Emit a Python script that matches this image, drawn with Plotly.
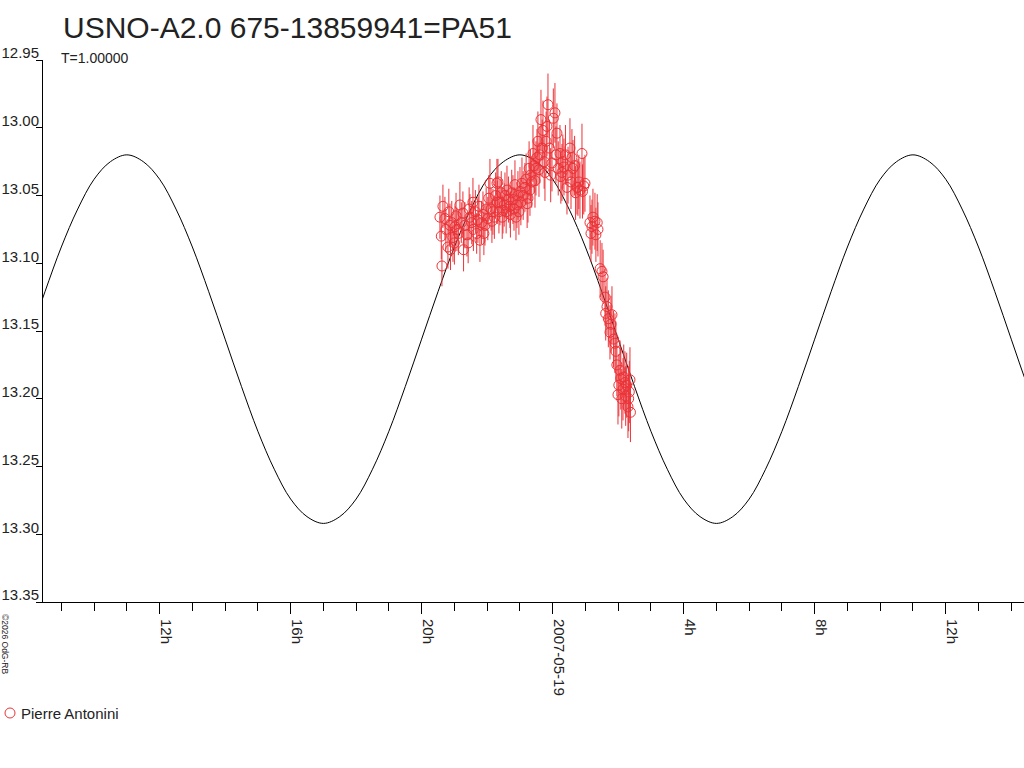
import pandas as pd
from plotly import graph_objects as go

# observation times, hours from 2007-05-19 00:00 UT
obs_hours = [
    -3.441, -3.40, -3.380, -3.350, -3.289, -3.26, -3.197, -3.17, -3.136, -3.12,
    -3.08, -3.044, -3.00, -2.983, -2.95, -2.922, -2.88, -2.832, -2.79, -2.740,
    -2.72, -2.68, -2.617, -2.58, -2.55, -2.525, -2.47, -2.434, -2.42, -2.36,
    -2.32, -2.281, -2.25, -2.220, -2.17, -2.128, -2.10, -2.067, -2.03, -1.98,
    -1.95, -1.915, -1.88, -1.854, -1.823, -1.78, -1.74, -1.701, -1.69, -1.670,
    -1.64, -1.609, -1.57, -1.54, -1.517, -1.48, -1.456, -1.42, -1.395, -1.35,
    -1.303, -1.29, -1.25, -1.212, -1.18, -1.151, -1.12, -1.090, -1.060, -1.03,
    -0.998, -0.97, -0.937, -0.90, -0.846, -0.81, -0.78, -0.754, -0.72, -0.693,
    -0.68, -0.64, -0.601, -0.57, -0.540, -0.51, -0.479, -0.45, -0.418, -0.39,
    -0.357, -0.32, -0.296, -0.26, -0.235, -0.20, -0.174, -0.143, -0.10, -0.06,
    -0.021, 0.02, 0.070, 0.10, 0.131, 0.17, 0.223, 0.25, 0.284, 0.31,
    0.345, 0.39, 0.437, 0.47, 0.528, 0.56, 0.589, 0.620, 0.67, 0.70,
    0.742, 0.773, 0.80, 0.834, 0.895, 0.91, 0.95, 0.986, 1.139, 1.17,
    1.200, 1.23, 1.291, 1.32, 1.36, 1.383, 1.45, 1.505, 1.54, 1.597,
    1.62, 1.658, 1.70, 1.750, 1.78, 1.811, 1.86, 1.902, 1.93, 1.96,
    1.994, 2.02, 2.055, 2.08, 2.11, 2.147, 2.17, 2.208, 2.23, 2.26,
    2.299, 2.32, 2.34, 2.360, 2.375,
]
obs_mag = [
    13.066, 13.080, 13.102, 13.058, 13.067, 13.075, 13.088, 13.062, 13.072, 13.090,
    13.070, 13.081, 13.085, 13.073, 13.065, 13.075, 13.078, 13.057, 13.070, 13.063,
    13.090, 13.072, 13.079, 13.085, 13.060, 13.066, 13.070, 13.055, 13.075, 13.062,
    13.078, 13.068, 13.058, 13.083, 13.070, 13.064, 13.078, 13.072, 13.060, 13.067,
    13.052, 13.041, 13.060, 13.069, 13.062, 13.066, 13.050, 13.041, 13.055, 13.040,
    13.062, 13.055, 13.048, 13.066, 13.061, 13.057, 13.050, 13.062, 13.046, 13.053,
    13.058, 13.064, 13.048, 13.053, 13.060, 13.042, 13.066, 13.057, 13.050, 13.062,
    13.047, 13.055, 13.041, 13.050, 13.044, 13.038, 13.056, 13.052, 13.030, 13.046,
    13.035, 13.040, 13.019, 13.028, 13.039, 13.030, 13.022, 13.010, 13.031, 13.020,
    12.994, 13.015, 13.002, 13.025, 13.033, 13.010, 12.999, 12.983, 13.015, 13.035,
    13.026, 12.993, 12.989, 13.020, 13.004, 13.030, 13.019, 13.036, 13.033, 13.025,
    13.029, 13.020, 13.044, 13.035, 13.015, 13.040, 13.022, 13.030, 13.028, 13.048,
    13.044, 13.044, 13.040, 13.046, 13.019, 13.047, 13.043, 13.041, 13.070, 13.078,
    13.073, 13.066, 13.069, 13.079, 13.070, 13.075, 13.104, 13.106, 13.110, 13.125,
    13.137, 13.132, 13.141, 13.151, 13.145, 13.138, 13.156, 13.159, 13.165, 13.175,
    13.197, 13.190, 13.179, 13.185, 13.200, 13.193, 13.184, 13.188, 13.198, 13.190,
    13.206, 13.200, 13.195, 13.186, 13.210,
]
obs_err = [
    0.016, 0.017, 0.015, 0.016, 0.016, 0.015, 0.016, 0.017, 0.016, 0.015,
    0.016, 0.018, 0.016, 0.015, 0.017, 0.016, 0.016, 0.017, 0.015, 0.016,
    0.016, 0.017, 0.016, 0.015, 0.016, 0.017, 0.016, 0.018, 0.016, 0.016,
    0.015, 0.017, 0.016, 0.016, 0.016, 0.017, 0.016, 0.015, 0.016, 0.016,
    0.017, 0.018, 0.016, 0.016, 0.017, 0.016, 0.017, 0.018, 0.016, 0.017,
    0.016, 0.017, 0.016, 0.016, 0.017, 0.016, 0.017, 0.016, 0.018, 0.017,
    0.016, 0.017, 0.017, 0.018, 0.016, 0.018, 0.017, 0.017, 0.018, 0.017,
    0.018, 0.017, 0.019, 0.018, 0.018, 0.019, 0.018, 0.018, 0.020, 0.019,
    0.019, 0.019, 0.021, 0.020, 0.020, 0.020, 0.021, 0.022, 0.020, 0.021,
    0.022, 0.021, 0.022, 0.020, 0.021, 0.022, 0.022, 0.023, 0.021, 0.020,
    0.021, 0.022, 0.022, 0.021, 0.022, 0.020, 0.021, 0.020, 0.021, 0.020,
    0.021, 0.022, 0.020, 0.021, 0.022, 0.020, 0.021, 0.021, 0.022, 0.020,
    0.020, 0.021, 0.020, 0.021, 0.022, 0.020, 0.021, 0.021, 0.020, 0.021,
    0.020, 0.021, 0.021, 0.020, 0.021, 0.020, 0.021, 0.021, 0.020, 0.021,
    0.020, 0.021, 0.021, 0.020, 0.021, 0.021, 0.021, 0.022, 0.022, 0.023,
    0.022, 0.023, 0.022, 0.023, 0.022, 0.023, 0.024, 0.023, 0.022, 0.024,
    0.023, 0.024, 0.023, 0.024, 0.022,
]

# fitted curve, every half hour from 2007-05-18 08h
curve_hours = [h / 2 for h in range(-32, 31)]
curve_mag = [
    13.156, 13.121, 13.088, 13.060, 13.038, 13.025, 13.020, 13.025, 13.038, 13.060,
    13.088, 13.121, 13.156, 13.191, 13.224, 13.252, 13.274, 13.287, 13.292, 13.287,
    13.274, 13.252, 13.224, 13.191, 13.156, 13.121, 13.088, 13.060, 13.038, 13.025,
    13.020, 13.025, 13.038, 13.060, 13.088, 13.121, 13.156, 13.191, 13.224, 13.252,
    13.274, 13.287, 13.292, 13.287, 13.274, 13.252, 13.224, 13.191, 13.156, 13.121,
    13.088, 13.060, 13.038, 13.025, 13.020, 13.025, 13.038, 13.060, 13.088, 13.121,
    13.156, 13.191, 13.224,
]

tick_hours = [-12, -8, -4, 0, 4, 8, 12]
tick_labels = ["12h", "16h", "20h", "2007-05-19", "4h", "8h", "12h"]
mag_ticks = [12.95, 13.00, 13.05, 13.10, 13.15, 13.20, 13.25, 13.30, 13.35]

base = pd.Timestamp("2007-05-19 00:00")
to_dt = lambda h: base + pd.to_timedelta(h, unit="h")
obs_t = [to_dt(h) for h in obs_hours]
curve_t = [to_dt(h) for h in curve_hours]

red = "rgb(235,50,55)"
font = "Liberation Sans, Arial, sans-serif"
W, H = 981, 542  # plot area in px

fig = go.Figure()
fig.add_trace(go.Scatter(x=curve_t, y=curve_mag, mode="lines",
                         line=dict(color="black", width=1, shape="spline"),
                         showlegend=False, hoverinfo="skip"))
fig.add_trace(go.Scatter(x=obs_t, y=obs_mag, mode="markers",
                         marker=dict(symbol="circle-open", size=10, color=red,
                                     line=dict(width=1, color=red)),
                         error_y=dict(type="data", array=obs_err, color=red,
                                      thickness=1, width=0),
                         name="Pierre Antonini", showlegend=False))

fig.update_layout(
    width=1024, height=768,
    margin=dict(l=43, r=0, t=60, b=166, autoexpand=False),
    paper_bgcolor="white", plot_bgcolor="white",
    font=dict(family=font, size=15, color="#222"),
    xaxis=dict(
        type="date", range=[to_dt(-15.56), to_dt(14.39)], automargin=False,
        tickvals=[to_dt(h) for h in tick_hours], ticktext=tick_labels,
        tickangle=90, ticks="outside", ticklen=11, tickcolor="black",
        ticklabelshift=6, ticklabelstandoff=2,
        minor=dict(dtick=3600000, ticks="outside", ticklen=8, tickcolor="black"),
        showline=True, linecolor="black", linewidth=1,
        showgrid=False, zeroline=False,
    ),
    yaxis=dict(
        range=[13.35, 12.95], tickvals=mag_ticks, tickformat=".2f", automargin=False,
        ticks="outside", ticklen=6, tickcolor="black",
        ticklabelposition="outside top", ticklabelstandoff=0, ticklabelshift=-4,
        showline=True, linecolor="black", linewidth=1,
        showgrid=False, zeroline=False,
    ),
    shapes=[
        # legend symbol
        dict(type="circle", xref="paper", yref="paper",
             xsizemode="pixel", ysizemode="pixel",
             xanchor=(10 - 43) / W, yanchor=(602 - 713) / H,
             x0=-5, x1=5, y0=-5, y1=5, line=dict(color=red, width=1)),
    ],
    annotations=[
        dict(text="USNO-A2.0 675-13859941=PA51", xref="paper", yref="paper",
             x=18 / W, y=1 + 33 / H, xanchor="left", yanchor="middle",
             showarrow=False, font=dict(size=30, color="#222")),
        dict(text="T=1.00000", xref="paper", yref="paper",
             x=16 / W, y=1 + 2 / H, xanchor="left", yanchor="middle",
             showarrow=False, font=dict(size=14, color="#222")),
        dict(text="©2026 OdG-RB", xref="paper", yref="paper",
             x=(5 - 43) / W, y=(602 - 644) / H, xanchor="center", yanchor="middle",
             textangle=90, showarrow=False, font=dict(size=8.5, color="#222")),
        dict(text="Pierre Antonini", xref="paper", yref="paper",
             x=(19 - 43) / W, y=(602 - 713) / H, xanchor="left", yanchor="middle",
             showarrow=False, font=dict(size=15, color="#222")),
    ],
)

# drop the default page margin so the figure sits at the window corner
fig.write_html("out.html", config={"displayModeBar": False},
               post_script="document.body.style.margin = '0';")
